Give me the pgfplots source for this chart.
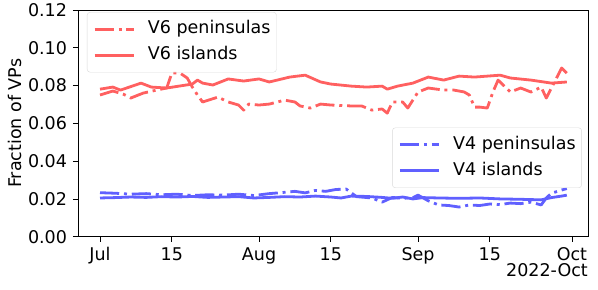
\documentclass[border=0pt]{standalone}
\usepackage{pgfplots}
\pgfplotsset{compat=1.18}
\usepackage{fontspec}
\setmainfont{DejaVu Sans}
\definecolor{myred}{RGB}{255,96,96}
\definecolor{myblue}{RGB}{96,96,255}
\begin{document}
\fontsize{17.5bp}{21bp}\selectfont
\begin{tikzpicture}
\useasboundingbox (-78bp,-53.3bp) rectangle (520bp,236.7bp);
\pgfplotsset{
  myaxis/.style={width=510bp,height=226.7bp,scale only axis,
    xmin=-4.29,xmax=95.13,ymin=0,ymax=0.12, at={(0,0)}, anchor=south west},
}
\begin{axis}[myaxis,
  axis line style={line width=0.8bp},
  tick style={line width=0.8bp, black},
  major tick length=5bp, tick align=outside, tick pos=left,
  xtick={0,14,31,45,62,76,92},
  xticklabels={Jul,15,Aug,15,Sep,15,Oct},
  xticklabel style={inner sep=1bp, yshift=-4.8bp, text depth=0pt},
  ytick={0,0.02,0.04,0.06,0.08,0.10,0.12},
  scaled y ticks=false,
  yticklabel style={/pgf/number format/.cd, fixed, fixed zerofill, precision=2, assume math mode=true},
  ylabel={Fraction of VPs},
  ylabel style={at={(axis description cs:-0.1235,0.5)}, anchor=center},
  legend cell align=left,
  legend image code/.code={\draw[#1] (0bp,0bp) -- (39bp,0bp);},
  legend style={draw=black!15, rounded corners=3bp, fill=white, fill opacity=0.8, text opacity=1,
    inner xsep=6bp, inner ysep=8.5bp, row sep=9bp, column sep=13bp,
    nodes={inner sep=0pt, text height=13bp, text depth=4bp},
    at={(0.0176,0.991)}, anchor=north west},
]
\addplot[myred, line width=2.8bp, line join=round, dash pattern=on 19.2bp off 4.8bp on 3bp off 4.8bp] coordinates {
(0,0.0750) (2.5,0.0771) (4.5,0.0755) (6,0.0734) (8.4,0.0760) (11,0.0776) (13,0.0787)
(14,0.0866) (15.6,0.0866) (17,0.0840) (18,0.0792) (19,0.0750) (20,0.0713) (23,0.0739)
(25,0.0713) (27,0.0697) (28,0.0670) (29,0.0702) (31,0.0697) (33,0.0702) (36,0.0723)
(38,0.0713) (39,0.0692) (41,0.0681) (43,0.0702) (45,0.0697) (49,0.0692) (51,0.0692)
(53,0.0670) (55,0.0676) (56,0.0654) (57,0.0713) (59,0.0713) (60,0.0681) (62,0.0766)
(64,0.0787) (67,0.0776) (69,0.0776) (71,0.0766) (72,0.0750) (73,0.0686) (74,0.0686)
(75.5,0.0681) (76.6,0.0766) (77.6,0.0829) (78.6,0.0803) (80,0.0766) (82,0.0787)
(84,0.0766) (86,0.0792) (87,0.0734) (88,0.0787) (89,0.0840) (90,0.0893) (91,0.0866)
};
\addlegendentry{V6 peninsulas}
\addplot[myred, line width=2.8bp, line join=round] coordinates {
(0,0.0781) (2.5,0.0792) (4,0.0776) (8,0.0813) (10,0.0792) (13,0.0787) (18,0.0808)
(19,0.0829) (20,0.0813) (22,0.0803) (25,0.0835) (28,0.0824) (31,0.0835) (33,0.0819)
(37,0.0845) (40,0.0855) (43,0.0819) (45,0.0808) (49,0.0797) (52,0.0792) (55,0.0797)
(56,0.0781) (58,0.0797) (61,0.0813) (64,0.0845) (67,0.0829) (70,0.0850) (73,0.0845)
(78,0.0855) (80,0.0840) (84,0.0829) (88,0.0813) (91,0.0819)
};
\addlegendentry{V6 islands}
\end{axis}
\begin{axis}[myaxis, hide axis,
  legend cell align=left,
  legend image code/.code={\draw[#1] (0bp,0bp) -- (39bp,0bp);},
  legend style={draw=black!15, rounded corners=3bp, fill=white, fill opacity=0.8, text opacity=1,
    inner xsep=6bp, inner ysep=8.5bp, row sep=9bp, column sep=13bp,
    nodes={inner sep=0pt, text height=13bp, text depth=4bp},
    at={(0.988,0.215)}, anchor=south east},
]
\addplot[myblue, line width=2.8bp, line join=round, dash pattern=on 19.2bp off 4.8bp on 3bp off 4.8bp] coordinates {
(0,0.0233) (3,0.0230) (6,0.0225) (9,0.0228) (12,0.0222) (15,0.0225) (18,0.0218)
(21,0.0222) (24,0.0220) (27,0.0225) (30,0.0218) (33,0.0228) (36,0.0235) (38,0.0240)
(40,0.0232) (42,0.0245) (44,0.0240) (46,0.0250) (48,0.0252) (50,0.0212) (53,0.0205)
(55,0.0183) (57,0.0208) (59,0.0203) (61,0.0207) (62,0.0220) (64,0.0190) (66,0.0168)
(68,0.0165) (70,0.0157) (72,0.0168) (74,0.0165) (76,0.0173) (78,0.0170) (80,0.0178)
(82,0.0175) (84,0.0183) (86,0.0168) (87,0.0205) (88,0.0230) (90,0.0247) (91,0.0255)
};
\addlegendentry{V4 peninsulas}
\addplot[myblue, line width=2.8bp, line join=round] coordinates {
(0,0.0205) (3,0.0207) (6,0.0210) (9,0.0208) (12,0.0212) (15,0.0210) (18,0.0213)
(21,0.0208) (24,0.0210) (27,0.0212) (30,0.0205) (33,0.0208) (36,0.0212) (39,0.0210)
(42,0.0215) (45,0.0210) (47,0.0205) (49,0.0215) (52,0.0213) (55,0.0208) (57,0.0203)
(59,0.0210) (61,0.0200) (63,0.0207) (66,0.0205) (70,0.0203) (74,0.0205) (78,0.0200)
(82,0.0198) (86,0.0195) (88,0.0207) (90,0.0215) (91,0.0220)
};
\addlegendentry{V4 islands}
\end{axis}
\node[anchor=north east, inner sep=0pt, text height=13bp, text depth=0pt] at (510bp,-26.3bp) {2022-Oct};
\end{tikzpicture}
\end{document}
